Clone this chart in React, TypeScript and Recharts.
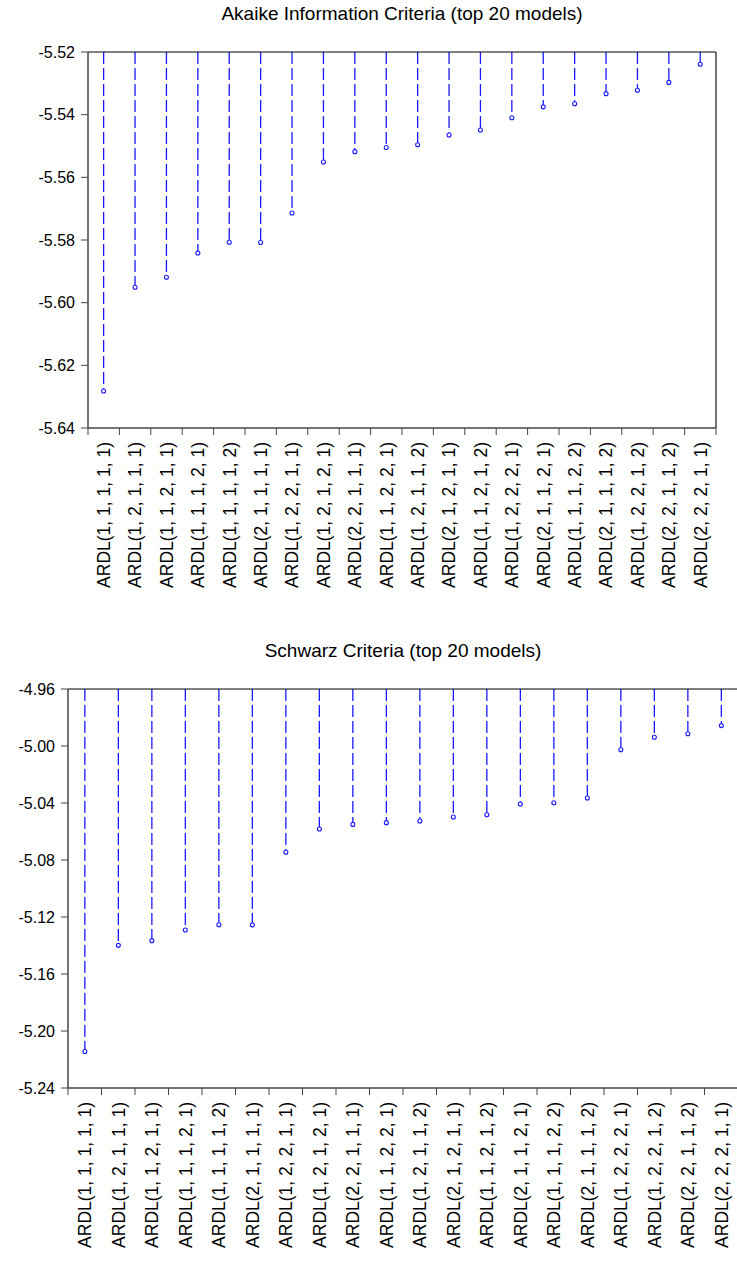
import React from "react";
import { ComposedChart, Bar, XAxis, YAxis } from "recharts";

const akaikeModels = [
  "ARDL(1, 1, 1, 1, 1)",
  "ARDL(1, 2, 1, 1, 1)",
  "ARDL(1, 1, 2, 1, 1)",
  "ARDL(1, 1, 1, 2, 1)",
  "ARDL(1, 1, 1, 1, 2)",
  "ARDL(2, 1, 1, 1, 1)",
  "ARDL(1, 2, 2, 1, 1)",
  "ARDL(1, 2, 1, 2, 1)",
  "ARDL(2, 2, 1, 1, 1)",
  "ARDL(1, 1, 2, 2, 1)",
  "ARDL(1, 2, 1, 1, 2)",
  "ARDL(2, 1, 2, 1, 1)",
  "ARDL(1, 1, 2, 1, 2)",
  "ARDL(1, 2, 2, 2, 1)",
  "ARDL(2, 1, 1, 2, 1)",
  "ARDL(1, 1, 1, 2, 2)",
  "ARDL(2, 1, 1, 1, 2)",
  "ARDL(1, 2, 2, 1, 2)",
  "ARDL(2, 2, 1, 1, 2)",
  "ARDL(2, 2, 2, 1, 1)",
];
const akaikeValues = [
  -5.6282, -5.5951, -5.5919, -5.5842, -5.5807, -5.5808, -5.5714, -5.5551,
  -5.5518, -5.5505, -5.5496, -5.5465, -5.5449, -5.541, -5.5375, -5.5365,
  -5.5333, -5.5322, -5.5297, -5.5239,
];
const akaikeTicks = [-5.64, -5.62, -5.6, -5.58, -5.56, -5.54, -5.52];

const schwarzModels = [
  "ARDL(1, 1, 1, 1, 1)",
  "ARDL(1, 2, 1, 1, 1)",
  "ARDL(1, 1, 2, 1, 1)",
  "ARDL(1, 1, 1, 2, 1)",
  "ARDL(1, 1, 1, 1, 2)",
  "ARDL(2, 1, 1, 1, 1)",
  "ARDL(1, 2, 2, 1, 1)",
  "ARDL(1, 2, 1, 2, 1)",
  "ARDL(2, 2, 1, 1, 1)",
  "ARDL(1, 1, 2, 2, 1)",
  "ARDL(1, 2, 1, 1, 2)",
  "ARDL(2, 1, 2, 1, 1)",
  "ARDL(1, 1, 2, 1, 2)",
  "ARDL(2, 1, 1, 2, 1)",
  "ARDL(1, 1, 1, 2, 2)",
  "ARDL(2, 1, 1, 1, 2)",
  "ARDL(1, 2, 2, 2, 1)",
  "ARDL(1, 2, 2, 1, 2)",
  "ARDL(2, 2, 1, 1, 2)",
  "ARDL(2, 2, 2, 1, 1)",
];
const schwarzValues = [
  -5.2144, -5.1399, -5.1366, -5.1291, -5.1254, -5.1255, -5.0746, -5.0582,
  -5.055, -5.0538, -5.0526, -5.0498, -5.0482, -5.0407, -5.0398, -5.0365,
  -5.0026, -4.9939, -4.9914, -4.9857,
];
const schwarzTicks = [-5.24, -5.2, -5.16, -5.12, -5.08, -5.04, -5.0, -4.96];

const FONT = '"Liberation Sans", Arial, Helvetica, sans-serif';
const BLUE = "#1a1aff";
const AXIS = "#444";

const akaikeData = akaikeModels.map((model, i) => ({ model, value: akaikeValues[i] }));
const schwarzData = schwarzModels.map((model, i) => ({ model, value: schwarzValues[i] }));

// dashed stem hanging from the top of the plot, open circle at the value
function Stem(props: any) {
  const { x, y, width, height } = props;
  if (x == null || y == null) return null;
  const cx = x + width / 2;
  const top = Math.min(y, y + height);
  const bottom = Math.max(y, y + height);
  return (
    <g>
      <line
        x1={cx}
        x2={cx}
        y1={top}
        y2={bottom - 2}
        stroke={BLUE}
        strokeWidth={1.3}
        strokeDasharray="12 4"
      />
      <circle cx={cx} cy={bottom} r={2} fill="#fff" stroke={BLUE} strokeWidth={1.1} />
    </g>
  );
}

// rotated model name plus tick marks on the category boundaries
function ModelTick(props: any) {
  const { x, y, payload, index, visibleTicksCount } = props;
  const half = payload?.offset ?? 0;
  const ty = y + 14;
  return (
    <g>
      <line x1={x - half} x2={x - half} y1={y} y2={y + 7} stroke={AXIS} strokeWidth={1} />
      {index === visibleTicksCount - 1 && (
        <line x1={x + half} x2={x + half} y1={y} y2={y + 7} stroke={AXIS} strokeWidth={1} />
      )}
      <text
        x={x}
        y={ty}
        transform={`rotate(-90, ${x}, ${ty})`}
        textAnchor="end"
        dy="0.36em"
        fill="#000"
        fontSize={17.5}
        fontFamily={FONT}
      >
        {payload.value}
      </text>
    </g>
  );
}

function Title({ text, top, center }: { text: string; top: number; center: number }) {
  return (
    <div
      style={{
        position: "absolute",
        top,
        left: center - 250,
        width: 500,
        textAlign: "center",
        fontFamily: FONT,
        fontSize: 19,
        lineHeight: "20px",
        color: "#000",
      }}
    >
      {text}
    </div>
  );
}

function LollipopChart({
  data,
  ticks,
  width,
  height,
  margin,
  axisHeight,
  rightFrame,
}: {
  data: { model: string; value: number }[];
  ticks: number[];
  width: number;
  height: number;
  margin: { top: number; right: number; left: number; bottom: number };
  axisHeight: number;
  rightFrame: boolean;
}) {
  return (
    <ComposedChart width={width} height={height} data={data} margin={margin}>
      <XAxis
        xAxisId="frame"
        dataKey="model"
        orientation="top"
        height={1}
        tick={false}
        tickLine={false}
        axisLine={{ stroke: "#000", strokeWidth: 1.2 }}
      />
      <XAxis
        xAxisId="models"
        dataKey="model"
        interval={0}
        height={axisHeight}
        tickSize={0}
        tickMargin={0}
        tickLine={false}
        axisLine={{ stroke: AXIS, strokeWidth: 1.5 }}
        tick={<ModelTick />}
      />
      <YAxis
        yAxisId="value"
        type="number"
        domain={[ticks[0], ticks[ticks.length - 1]]}
        ticks={ticks}
        interval={0}
        width={60}
        tickSize={7}
        tickMargin={6}
        tickFormatter={(v: number) => v.toFixed(2)}
        tick={{ fill: "#000", fontSize: 16, fontFamily: FONT }}
        tickLine={{ stroke: AXIS }}
        axisLine={{ stroke: AXIS, strokeWidth: 1.5 }}
        allowDataOverflow
      />
      {rightFrame && (
        <YAxis
          yAxisId="frame"
          orientation="right"
          type="number"
          domain={[ticks[0], ticks[ticks.length - 1]]}
          width={1}
          tick={false}
          tickLine={false}
          axisLine={{ stroke: AXIS, strokeWidth: 1.5 }}
        />
      )}
      <Bar
        xAxisId="models"
        yAxisId="value"
        dataKey="value"
        shape={<Stem />}
        isAnimationActive={false}
      />
    </ComposedChart>
  );
}

export default function App() {
  return (
    <div
      style={{
        position: "absolute",
        left: 0,
        top: 0,
        width: 737,
        height: 1265,
        overflow: "hidden",
        background: "#fff",
      }}
    >
      <Title text="Akaike Information Criteria (top 20 models)" top={4} center={402} />
      <div style={{ position: "absolute", left: 0, top: 0 }}>
        <LollipopChart
          data={akaikeData}
          ticks={akaikeTicks}
          width={737}
          height={640}
          margin={{ top: 51, right: 20, left: 28, bottom: 0 }}
          axisHeight={212}
          rightFrame
        />
      </div>
      <Title text="Schwarz Criteria (top 20 models)" top={641} center={403} />
      <div style={{ position: "absolute", left: 0, top: 640 }}>
        <LollipopChart
          data={schwarzData}
          ticks={schwarzTicks}
          width={738}
          height={625}
          margin={{ top: 48, right: 0, left: 8, bottom: 0 }}
          axisHeight={177}
          rightFrame={false}
        />
      </div>
    </div>
  );
}
